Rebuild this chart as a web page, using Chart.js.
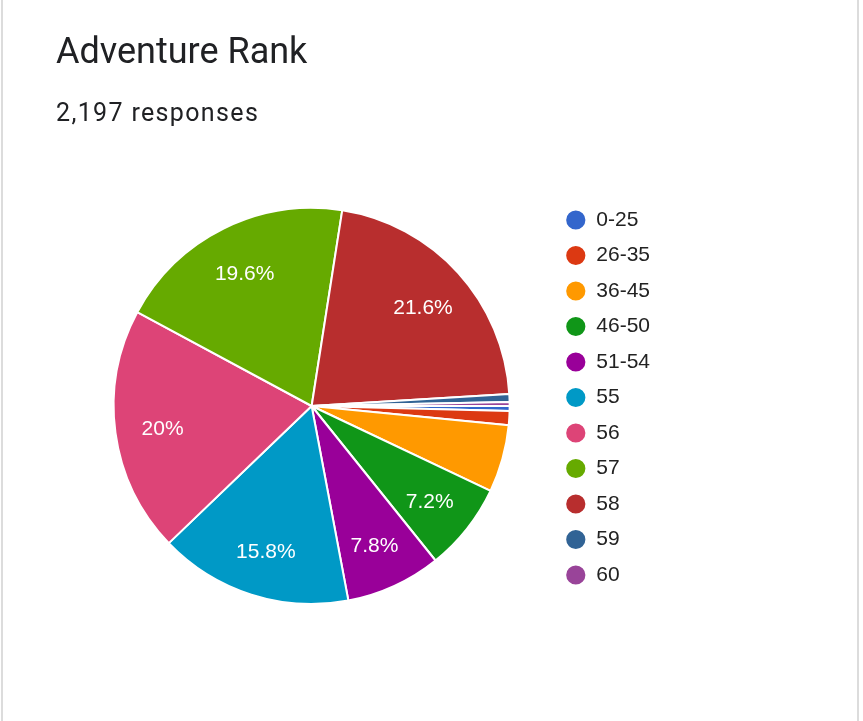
<!DOCTYPE html>
<html>
<head>
<meta charset="utf-8">
<script src="https://cdn.jsdelivr.net/npm/chart.js@4/dist/chart.umd.min.js"></script>
<style>
  html, body { margin: 0; padding: 0; background: #fff; }
  body { width: 863px; height: 721px; position: relative; overflow: hidden; }
  .card { position: absolute; left: 1px; top: -2px; width: 858px; height: 730px; border-left: 2px solid #dcdcdc; border-right: 2px solid #dcdcdc; box-sizing: border-box; }
  #title { position: absolute; left: 56px; top: 30px; font-family: Roboto, "Noto Sans", sans-serif; font-size: 36px; color: #202124; white-space: nowrap; }
  #sub { position: absolute; left: 56px; top: 98px; font-family: Roboto, "Noto Sans", sans-serif; font-size: 25px; letter-spacing: 1.35px; color: #202124; white-space: nowrap; }
  #wrap { position: absolute; left: 0; top: 0; width: 863px; height: 721px; }
</style>
</head>
<body>
<div class="card"></div>
<div id="wrap"><canvas id="c"></canvas></div>
<div id="title">Adventure Rank</div>
<div id="sub">2,197 responses</div>
<script>
const categories = ["0-25", "26-35", "36-45", "46-50", "51-54", "55", "56", "57", "58", "59", "60"];
const responses  = [9, 25, 121, 158, 171, 347, 440, 431, 474, 14, 7];
const colors     = ["#3366cc", "#dc3912", "#ff9900", "#109618", "#990099", "#0099c6", "#dd4477", "#66aa00", "#b82e2e", "#316395", "#994499"];

const total = responses.reduce((a, b) => a + b, 0);

const sliceLabels = {
  id: 'sliceLabels',
  afterDatasetsDraw(chart) {
    const ctx = chart.ctx;
    const meta = chart.getDatasetMeta(0);
    ctx.save();
    ctx.fillStyle = '#ffffff';
    ctx.font = '21px "Liberation Sans", Arial, sans-serif';
    ctx.textAlign = 'center';
    ctx.textBaseline = 'middle';
    meta.data.forEach((arc, i) => {
      const pct = responses[i] / total * 100;
      if (pct < 6) return;
      let txt = pct.toFixed(1);
      if (txt.endsWith('.0')) txt = txt.slice(0, -2);
      txt += '%';
      const p = arc.getProps(['x', 'y', 'startAngle', 'endAngle', 'outerRadius'], true);
      const mid = (p.startAngle + p.endAngle) / 2;
      const r = p.outerRadius * 0.76;
      ctx.fillText(txt, p.x + Math.cos(mid) * r, p.y + Math.sin(mid) * r + 3);
    });
    ctx.restore();
  }
};

new Chart(document.getElementById('c'), {
  type: 'pie',
  data: {
    labels: categories,
    datasets: [{
      data: responses,
      backgroundColor: colors,
      borderColor: '#ffffff',
      borderWidth: 2
    }]
  },
  options: {
    responsive: true,
    maintainAspectRatio: false,
    animation: false,
    radius: 198,
    rotation: 90,
    layout: { padding: { left: 72, top: 195, bottom: 104, right: 203 } },
    plugins: {
      tooltip: { enabled: false },
      legend: {
        position: 'right',
        align: 'start',
        labels: {
          usePointStyle: true,
          pointStyle: 'circle',
          boxWidth: 20,
          boxHeight: 15,
          padding: 14.5,
          color: '#222222',
          font: { family: '"Liberation Sans", Arial, sans-serif', size: 21 }
        }
      }
    }
  },
  plugins: [sliceLabels]
});
</script>
</body>
</html>
